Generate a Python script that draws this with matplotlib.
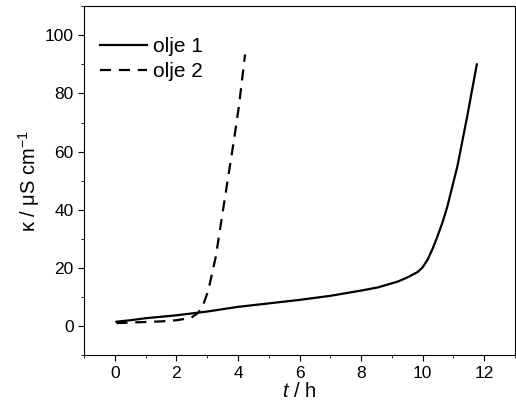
import matplotlib.pyplot as plt
from matplotlib.ticker import MultipleLocator

plt.rcParams['font.family'] = ['Liberation Sans', 'DejaVu Sans']
plt.rcParams['mathtext.fontset'] = 'custom'
plt.rcParams['mathtext.it'] = 'Liberation Sans:italic'
plt.rcParams['mathtext.rm'] = 'Liberation Sans'

# olje 1
t1 = [0.05, 0.5, 1.0, 2.0, 3.0, 4.0, 5.0, 6.0, 7.0, 8.0, 8.55, 9.19, 9.5, 9.84,
      10.0, 10.16, 10.32, 10.48, 10.65, 10.8, 11.13, 11.45, 11.76]
k1 = [1.5, 2.0, 2.7, 3.7, 5.0, 6.6, 7.8, 9.0, 10.4, 12.2, 13.3, 15.3, 16.7, 18.6,
      20.2, 22.8, 26.5, 30.8, 35.8, 41.0, 55.0, 72.2, 90.0]

# olje 2
t2 = [0.05, 0.5, 1.0, 1.5, 2.0, 2.47, 2.7, 2.85, 3.04, 3.28, 3.53, 3.87, 4.03,
      4.23]
k2 = [1.0, 1.2, 1.4, 1.6, 2.0, 2.8, 4.5, 6.7, 12.4, 23.9, 41.0, 64.0, 75.6,
      93.4]

fig, ax = plt.subplots(figsize=(5.16, 4.12), dpi=100)
ax.plot(t1, k1, "k-", lw=1.6, label="olje 1")
ax.plot(t2, k2, "k--", lw=1.6, dashes=(5, 3.5), label="olje 2")

ax.set_xlim(-1, 13)
ax.set_ylim(-10, 110)
ax.xaxis.set_major_locator(MultipleLocator(2))
ax.xaxis.set_minor_locator(MultipleLocator(1))
ax.yaxis.set_major_locator(MultipleLocator(20))
ax.yaxis.set_minor_locator(MultipleLocator(10))
ax.tick_params(which='major', direction='out', length=4, labelsize=12.5)
ax.tick_params(which='minor', direction='out', length=2.5)

ax.set_xlabel("$t$ / h", fontsize=14.5, labelpad=1)
ax.set_ylabel("κ / μS cm$^{-1}$", fontsize=14.5, labelpad=2)

ax.legend(loc="upper left", bbox_to_anchor=(-0.007, 0.966), frameon=False,
          fontsize=15, handlelength=2.25, handletextpad=0.3, labelspacing=0.3,
          borderaxespad=0.5)

fig.subplots_adjust(left=0.163, right=0.998, top=0.985, bottom=0.138)
plt.savefig("out.png")
